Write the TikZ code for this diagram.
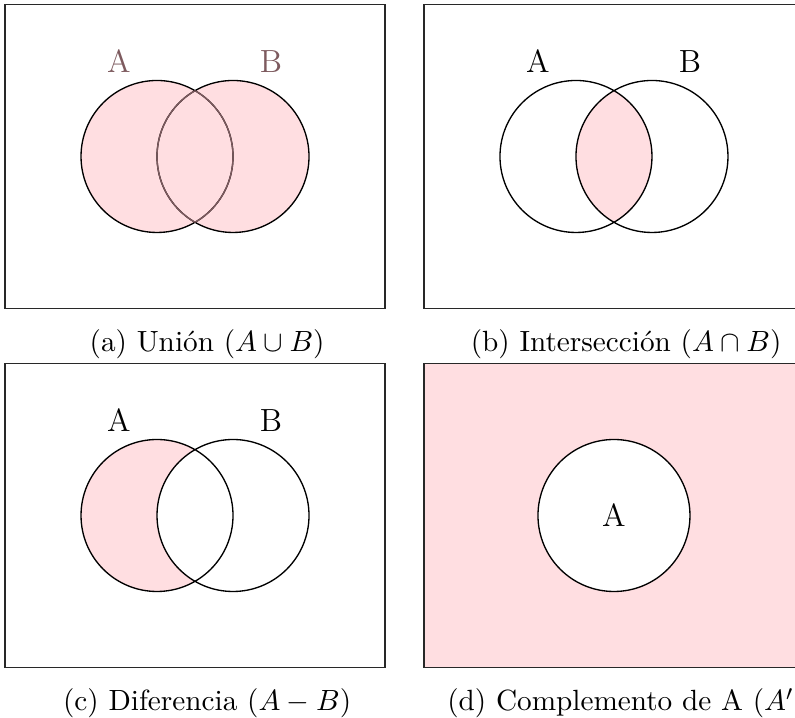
\documentclass[tikz,border=0pt]{standalone}
\usepackage{tikz}
\usetikzlibrary{positioning}
\definecolor{rosa}{RGB}{255,222,225}
\definecolor{tinta}{RGB}{40,40,40}
\definecolor{pardo}{RGB}{125,90,94}
\tikzset{
  marco/.style={draw=tinta,line width=0.5pt},
  venn/.style={draw=black,line width=0.5pt},
  etiqueta/.style={font=\large,text=#1},
  etiqueta/.default=black,
  leyenda/.style={font=\fontsize{10.95}{13.6}\selectfont,anchor=base},
}
\begin{document}
\begin{tikzpicture}
  \useasboundingbox (-2.066,-7.388) rectangle (8.395,2.059);
  % (a) union
  \begin{scope}
    \draw[marco] (-2,-2) rectangle (3,2);
    \fill[rosa] (0,0) circle (1) (1,0) circle (1);
    \draw[venn] (0,0) circle (1) (1,0) circle (1);
    \begin{scope}
      \clip (0,0) circle (1);
      \draw[venn,draw=pardo] (1,0) circle (1);
    \end{scope}
    \begin{scope}
      \clip (1,0) circle (1);
      \draw[venn,draw=pardo] (0,0) circle (1);
    \end{scope}
    \node[etiqueta=pardo] (aA) at (-0.5,1.25) {A};
    \node[etiqueta=pardo] (aB) at (1.5,1.25) {B};
    \node[leyenda] (capa) at (0.66,-2.57) {(a) Unión $(A\cup B)$};
  \end{scope}
  % (b) interseccion
  \begin{scope}[xshift=5.513cm]
    \draw[marco] (-2,-2) rectangle (3,2);
    \begin{scope}
      \clip (0,0) circle (1);
      \fill[rosa] (1,0) circle (1);
    \end{scope}
    \draw[venn] (0,0) circle (1) (1,0) circle (1);
    \node[etiqueta] (bA) at (-0.5,1.25) {A};
    \node[etiqueta] (bB) at (1.5,1.25) {B};
    \node[leyenda] (capb) at (0.66,-2.57) {(b) Intersección $(A\cap B)$};
  \end{scope}
  % (c) diferencia
  \begin{scope}[yshift=-4.724cm]
    \draw[marco] (-2,-2) rectangle (3,2);
    \fill[rosa] (0,0) circle (1);
    \fill[white] (1,0) circle (1);
    \draw[venn] (0,0) circle (1) (1,0) circle (1);
    \node[etiqueta] (cA) at (-0.5,1.25) {A};
    \node[etiqueta] (cB) at (1.5,1.25) {B};
    \node[leyenda] (capc) at (0.66,-2.57) {(c) Diferencia $(A-B)$};
  \end{scope}
  % (d) complemento
  \begin{scope}[xshift=5.513cm,yshift=-4.724cm]
    \filldraw[marco,fill=rosa] (-2,-2) rectangle (3,2);
    \filldraw[venn,fill=white] (0.5,0) circle (1);
    \node[etiqueta] (dA) at (0.5,0) {A};
    \node[leyenda] (capd) at (0.66,-2.57) {(d) Complemento de A $(A')$};
  \end{scope}
\end{tikzpicture}
\end{document}
